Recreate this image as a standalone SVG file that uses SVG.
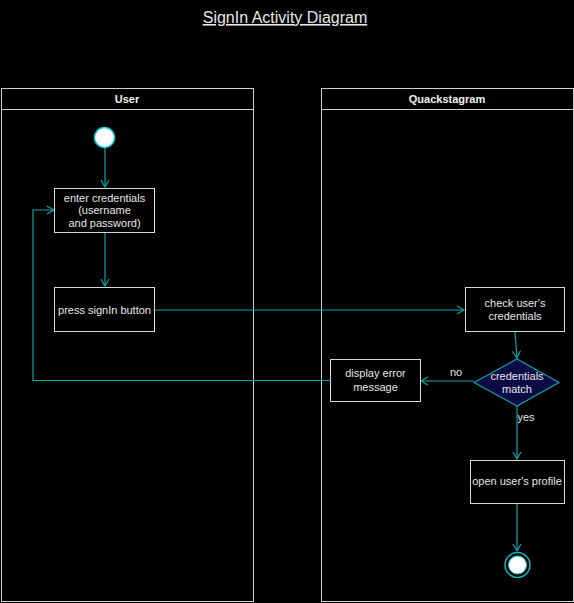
<svg xmlns="http://www.w3.org/2000/svg" width="574" height="603" viewBox="0 0 574 603">
<style>
.lane{fill:#000;stroke:#d0d0d0;stroke-width:1}
.box{fill:#000;stroke:#d8d8d8;stroke-width:1}
.t{font-family:"Liberation Sans",Arial,sans-serif;font-size:11px;fill:#e6e6e6;text-anchor:middle}
.h{font-family:"Liberation Sans",Arial,sans-serif;font-size:11px;font-weight:bold;fill:#f0f0f0;text-anchor:middle}
.c{fill:none;stroke:#0fa3aa;stroke-width:1.2}
</style>
<defs>
<marker id="arr" markerWidth="10" markerHeight="10" refX="8" refY="5" orient="auto" markerUnits="userSpaceOnUse">
<path d="M1,1 L8,5 L1,9" fill="none" stroke="#0fa3aa" stroke-width="1.2"/>
</marker>
</defs>
<rect width="574" height="603" fill="#000"/>
<text x="285" y="23" font-family="Liberation Sans,Arial,sans-serif" font-size="16" fill="#e8e8e8" text-anchor="middle" text-decoration="underline">SignIn Activity Diagram</text>
<g id="lane-user">
<rect class="lane" x="1.5" y="88.5" width="252" height="513"/>
<line x1="1.5" y1="109.5" x2="253.5" y2="109.5" stroke="#d0d0d0"/>
<text class="h" x="127" y="103">User</text>
</g>
<g id="lane-quack">
<rect class="lane" x="321.5" y="88.5" width="252" height="513"/>
<line x1="321.5" y1="109.5" x2="573.5" y2="109.5" stroke="#d0d0d0"/>
<text class="h" x="447" y="103">Quackstagram</text>
</g>
<g id="connectors">
<line class="c" x1="105" y1="148" x2="105" y2="187" marker-end="url(#arr)"/>
<line class="c" x1="105" y1="233" x2="105" y2="286" marker-end="url(#arr)"/>
<line class="c" x1="154" y1="310" x2="464" y2="310" marker-end="url(#arr)"/>
<line class="c" x1="515" y1="332" x2="517" y2="358" marker-end="url(#arr)"/>
<line class="c" x1="474" y1="381" x2="421" y2="381" marker-end="url(#arr)"/>
<polyline class="c" points="330,380.5 33,380.5 33,210 54,210" marker-end="url(#arr)"/>
<line class="c" x1="517" y1="406" x2="517" y2="459" marker-end="url(#arr)"/>
<line class="c" x1="517" y1="503" x2="517" y2="551" marker-end="url(#arr)"/>
<text class="t" x="456" y="376">no</text>
<text class="t" x="526" y="421">yes</text>
</g>
<g id="start">
<circle cx="104.5" cy="137.5" r="10" fill="#fff" stroke="#0fd0d8" stroke-width="1.5"/>
</g>
<g id="enter-credentials">
<rect class="box" x="54.5" y="188.5" width="100" height="44"/>
<text class="t" x="104.5" y="202">enter credentials</text>
<text class="t" x="104.5" y="214">(username</text>
<text class="t" x="104.5" y="227">and password)</text>
</g>
<g id="press-signin">
<rect class="box" x="54.5" y="287.5" width="100" height="44"/>
<text class="t" x="104.5" y="314">press signIn button</text>
</g>
<g id="check-credentials">
<rect class="box" x="465.5" y="287.5" width="99" height="44"/>
<text class="t" x="515" y="307">check user's</text>
<text class="t" x="515" y="320">credentials</text>
</g>
<g id="credentials-match">
<polygon points="517,359 559,382.5 517,406 474,382.5" fill="#0c0c45" stroke="#0fa3aa" stroke-width="1.2"/>
<text class="t" x="517" y="380">credentials</text>
<text class="t" x="517" y="393">match</text>
</g>
<g id="display-error">
<rect class="box" x="330.5" y="359.5" width="90" height="42"/>
<text class="t" x="375.5" y="377">display error</text>
<text class="t" x="375.5" y="391">message</text>
</g>
<g id="open-profile">
<rect class="box" x="470.5" y="460.5" width="94" height="43"/>
<text class="t" x="517" y="485">open user's profile</text>
</g>
<g id="end">
<circle cx="517.5" cy="565" r="12.5" fill="#000" stroke="#0fb8c0" stroke-width="1.5"/>
<circle cx="517.5" cy="565" r="9" fill="#fff" stroke="#0fd0d8" stroke-width="1"/>
</g>
</svg>
